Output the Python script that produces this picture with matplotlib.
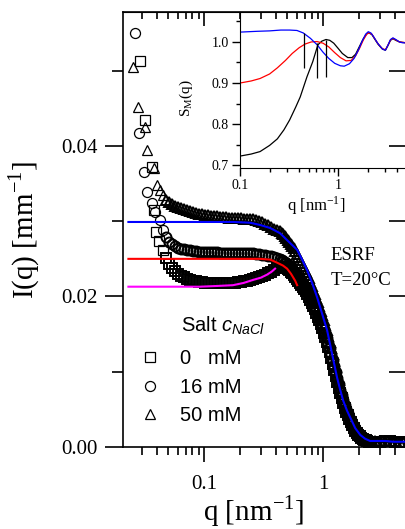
import matplotlib
matplotlib.use("Agg")
import matplotlib.pyplot as plt
from matplotlib.ticker import MultipleLocator, LogLocator, FuncFormatter, NullFormatter, FormatStrFormatter

plt.rcParams['font.family'] = ['Liberation Serif', 'DejaVu Serif']
plt.rcParams['mathtext.fontset'] = 'custom'
plt.rcParams['mathtext.rm'] = 'Liberation Sans'
plt.rcParams['mathtext.it'] = 'Liberation Sans:italic'

# ---- SAXS data, I(q) in mm^-1 ----
# sparse points at the lowest q
q_sq_low = [0.0290, 0.0319, 0.0366, 0.0380, 0.0394, 0.0418, 0.0452]
I_sq_low = [0.0513, 0.0435, 0.0372, 0.0315, 0.0286, 0.0274, 0.0262]
q_ci_low = [0.0263, 0.0285, 0.0313, 0.0331, 0.0366, 0.0387, 0.0427, 0.0452]
I_ci_low = [0.0550, 0.0417, 0.0365, 0.0339, 0.0324, 0.0312, 0.0302, 0.0288]
q_tr_low = [0.0253, 0.0279, 0.0319, 0.0331, 0.0380, 0.0401, 0.0427, 0.0452]
I_tr_low = [0.0505, 0.0452, 0.0425, 0.0395, 0.0371, 0.0348, 0.0342, 0.0335]

# common q grid of the dense part
q_grid = [0.0479, 0.0508, 0.0538, 0.0570, 0.0604, 0.0640, 0.0679, 0.0719, 0.0762, 0.0808,
          0.0856, 0.0907, 0.0961, 0.1019, 0.1080, 0.1144, 0.1213, 0.1285, 0.1362, 0.1443,
          0.1530, 0.1621, 0.1718, 0.1821, 0.1930, 0.2045, 0.2167, 0.2297, 0.2434, 0.2580,
          0.2734, 0.2897, 0.3071, 0.3254, 0.3449, 0.3655, 0.3874, 0.4105, 0.4351, 0.4611,
          0.4886, 0.5178, 0.5488, 0.5816, 0.6164, 0.6532, 0.6923, 0.7337, 0.7775, 0.8240,
          0.8733, 0.9255, 0.9808, 1.039, 1.102, 1.168, 1.237, 1.311, 1.390, 1.473,
          1.561, 1.654, 1.753, 1.858, 1.969, 2.087, 2.211, 2.344, 2.484,
          2.73, 3.01, 3.32, 3.66, 4.03, 4.44, 4.79]

I_sq = [0.0251, 0.0243, 0.0238, 0.0234, 0.0230, 0.0227, 0.0226, 0.0223, 0.0222, 0.0221,
        0.0221, 0.0219, 0.0219, 0.0218, 0.0218, 0.0218, 0.0218, 0.0218, 0.0218, 0.0218,
        0.0218, 0.0218, 0.0218, 0.0218, 0.0219, 0.0219, 0.0221, 0.0221, 0.0222, 0.0223,
        0.0225, 0.0226, 0.0227, 0.0229, 0.0231, 0.0233, 0.0235, 0.0238, 0.0239, 0.0239,
        0.0238, 0.0235, 0.0231, 0.0226, 0.0221, 0.0215, 0.0210, 0.0203, 0.0195, 0.0187,
        0.0178, 0.0169, 0.0158, 0.0146, 0.0133, 0.0118, 0.0102, 0.0086, 0.0072, 0.0058,
        0.0047, 0.0037, 0.0029, 0.0021, 0.0016, 0.0012, 0.0009, 0.0008, 0.0007,
        0.0007, 0.0007, 0.0008, 0.0008, 0.0007, 0.0007, 0.0006]

I_ci = [0.0279, 0.0272, 0.0270, 0.0267, 0.0264, 0.0263, 0.0263, 0.0262, 0.0262, 0.0260,
        0.0260, 0.0259, 0.0259, 0.0259, 0.0259, 0.0259, 0.0259, 0.0259, 0.0258, 0.0258,
        0.0258, 0.0258, 0.0258, 0.0258, 0.0258, 0.0258, 0.0258, 0.0258, 0.0258, 0.0258,
        0.0256, 0.0256, 0.0255, 0.0255, 0.0254, 0.0254, 0.0252, 0.0251, 0.0250, 0.0247,
        0.0245, 0.0241, 0.0237, 0.0231, 0.0226, 0.0221, 0.0215, 0.0209, 0.0201, 0.0193,
        0.0183, 0.0174, 0.0163, 0.0151, 0.0138, 0.0124, 0.0108, 0.0092, 0.0076, 0.0062,
        0.0050, 0.0040, 0.0032, 0.0024, 0.0017, 0.0013, 0.0011, 0.0008, 0.0008,
        0.0007, 0.0008, 0.0008, 0.0008, 0.0007, 0.0007, 0.0006]

I_tr = [0.0328, 0.0326, 0.0323, 0.0320, 0.0319, 0.0318, 0.0316, 0.0315, 0.0314, 0.0312,
        0.0311, 0.0310, 0.0310, 0.0308, 0.0308, 0.0307, 0.0307, 0.0307, 0.0306, 0.0306,
        0.0306, 0.0304, 0.0304, 0.0304, 0.0304, 0.0304, 0.0303, 0.0303, 0.0303, 0.0303,
        0.0302, 0.0300, 0.0299, 0.0296, 0.0295, 0.0292, 0.0290, 0.0288, 0.0287, 0.0283,
        0.0278, 0.0272, 0.0267, 0.0260, 0.0252, 0.0245, 0.0237, 0.0229, 0.0219, 0.0209,
        0.0198, 0.0187, 0.0175, 0.0162, 0.0148, 0.0132, 0.0114, 0.0097, 0.0081, 0.0066,
        0.0054, 0.0044, 0.0035, 0.0027, 0.0020, 0.0016, 0.0012, 0.0009, 0.0008,
        0.0008, 0.0008, 0.0008, 0.0008, 0.0008, 0.0007, 0.0007]

# additional points in the steep decay
q_decay = [0.4479, 0.4747, 0.5031, 0.5332, 0.5651, 0.5989, 0.6347, 0.6727, 0.7129, 0.7555,
           0.8007, 0.8486, 0.8993, 0.9531, 1.0101, 1.0705, 1.1345, 1.2024, 1.2743, 1.3505,
           1.4313, 1.5169, 1.6076, 1.7037, 1.8056, 1.9136, 2.0280, 2.1493, 2.2778, 2.4140]
I_sq_decay = [0.0239, 0.0239, 0.0237, 0.0233, 0.0229, 0.0223, 0.0218, 0.0213, 0.0207, 0.0199,
              0.0191, 0.0183, 0.0173, 0.0163, 0.0152, 0.0140, 0.0126, 0.0110, 0.0094, 0.0079,
              0.0065, 0.0052, 0.0042, 0.0033, 0.0025, 0.0019, 0.0014, 0.0011, 0.0009, 0.0007]
I_ci_decay = [0.0249, 0.0246, 0.0243, 0.0239, 0.0234, 0.0229, 0.0223, 0.0218, 0.0212, 0.0205,
              0.0197, 0.0188, 0.0179, 0.0169, 0.0157, 0.0145, 0.0131, 0.0116, 0.0100, 0.0084,
              0.0069, 0.0056, 0.0045, 0.0036, 0.0028, 0.0021, 0.0015, 0.0012, 0.0009, 0.0008]
I_tr_decay = [0.0285, 0.0280, 0.0275, 0.0270, 0.0264, 0.0256, 0.0249, 0.0241, 0.0233, 0.0224,
              0.0214, 0.0203, 0.0193, 0.0181, 0.0169, 0.0155, 0.0140, 0.0123, 0.0106, 0.0089,
              0.0074, 0.0060, 0.0049, 0.0039, 0.0031, 0.0023, 0.0018, 0.0014, 0.0011, 0.0009]

# model curves
q_fit50 = [0.0232, 0.175, 0.244, 0.296, 0.359, 0.435, 0.528, 0.605, 0.666, 0.734, 0.808,
           0.890, 0.981, 1.08, 1.17, 1.24, 1.31, 1.39, 1.47, 1.59, 1.69, 1.86, 2.05, 2.25,
           2.48, 2.84, 3.32, 3.87, 4.94]
I_fit50 = [0.0299, 0.0299, 0.0298, 0.0295, 0.0291, 0.0284, 0.0271, 0.0262, 0.0249, 0.0235,
           0.0218, 0.0199, 0.0177, 0.0155, 0.0129, 0.0110, 0.0092, 0.0076, 0.0062, 0.0048,
           0.0039, 0.0025, 0.0016, 0.0011, 0.0008, 0.0008, 0.0008, 0.0007, 0.0007]
q_fit16 = [0.0232, 0.296, 0.359, 0.410, 0.461, 0.498, 0.538, 0.582, 0.605]
I_fit16 = [0.0250, 0.0250, 0.0249, 0.0245, 0.0241, 0.0237, 0.0230, 0.0221, 0.0215]
q_fit0 = [0.0232, 0.0925, 0.13, 0.175, 0.215, 0.258, 0.30, 0.338, 0.37, 0.395]
I_fit0 = [0.0213, 0.0213, 0.0214, 0.0215, 0.0218, 0.0222, 0.0225, 0.0229, 0.0233, 0.0237]

# structure factors S_M(q) for the inset
qs_blue = [0.1, 0.15, 0.2, 0.26, 0.32, 0.38, 0.44, 0.52, 0.61, 0.70, 0.80, 0.92, 1.05, 1.15,
           1.30, 1.45, 1.60, 1.75, 1.90, 2.02, 2.15, 2.30, 2.50, 2.70, 2.85, 3.02, 3.20,
           3.40, 3.60, 3.85, 4.2, 4.5, 4.89]
S_blue = [1.024, 1.026, 1.027, 1.029, 1.029, 1.028, 1.022, 1.009, 0.993, 0.975, 0.960,
          0.948, 0.942, 0.941, 0.947, 0.960, 0.980, 1.002, 1.019, 1.025, 1.022, 1.012,
          0.998, 0.988, 0.982, 0.980, 0.992, 1.006, 1.010, 1.006, 1.000, 0.998, 0.998]
qs_red = [0.1, 0.13, 0.16, 0.2, 0.24, 0.29, 0.34, 0.40, 0.46, 0.53, 0.61, 0.70, 0.80,
          0.92, 1.05, 1.2, 1.35, 1.50, 1.65, 1.80, 1.95, 2.05, 2.2, 2.35, 2.55, 2.8,
          3.02, 3.2, 3.4, 3.6, 3.85, 4.2, 4.89]
S_red = [0.900, 0.905, 0.911, 0.922, 0.937, 0.955, 0.972, 0.986, 0.995, 1.000, 1.001,
         0.997, 0.988, 0.974, 0.962, 0.954, 0.955, 0.966, 0.985, 1.005, 1.019, 1.022,
         1.019, 1.008, 0.995, 0.984, 0.981, 0.992, 1.005, 1.009, 1.005, 1.000, 0.998]
qs_black = [0.1, 0.13, 0.16, 0.2, 0.24, 0.28, 0.32, 0.37, 0.41, 0.48, 0.55, 0.62, 0.68,
            0.75, 0.82, 0.9, 1.0, 1.1, 1.25, 1.38, 1.5, 1.65, 1.8, 1.95, 2.05, 2.2, 2.35,
            2.55, 2.8, 3.02, 3.2, 3.4, 3.6, 3.85, 4.2, 4.89]
S_black = [0.722, 0.727, 0.733, 0.748, 0.764, 0.786, 0.810, 0.842, 0.866, 0.915, 0.952,
           0.993, 1.002, 1.006, 1.004, 0.997, 0.984, 0.972, 0.962, 0.962, 0.970, 0.990,
           1.008, 1.020, 1.022, 1.018, 1.007, 0.994, 0.983, 0.980, 0.991, 1.004, 1.008,
           1.004, 1.000, 0.998]
# peak positions marked in the inset
q_peak = [0.45, 0.61, 0.75]
S_peak_lo = [0.937, 0.912, 0.915]
S_peak_hi = [1.022, 0.998, 1.005]

fig = plt.figure(figsize=(4.05, 5.29), dpi=100)
W, H = 405.0, 529.0
ax = fig.add_axes([123 / W, (H - 447) / H, 283 / W, 435 / H])

# sparse low-q points with thin edges, dense part with heavier edges
thin = dict(ls='none', mfc='none', mec='black', mew=0.9)
heavy = dict(ls='none', mfc='none', mec='black', mew=1.4)
h_sq, = ax.plot(q_sq_low, I_sq_low, marker='s', ms=6.5, **thin)
h_ci, = ax.plot(q_ci_low, I_ci_low, marker='o', ms=7.2, **thin)
h_tr, = ax.plot(q_tr_low, I_tr_low, marker='^', ms=7.5, **thin)
ax.plot(q_grid + q_decay, I_sq + I_sq_decay, marker='s', ms=6.5, **heavy)
ax.plot(q_grid + q_decay, I_ci + I_ci_decay, marker='o', ms=7.2, **heavy)
ax.plot(q_grid + q_decay, I_tr + I_tr_decay, marker='^', ms=7.5, **heavy)

ax.plot(q_fit0, I_fit0, color='#ff00ff', lw=1.5, zorder=5)
ax.plot(q_fit16, I_fit16, color='#ff0000', lw=1.5, zorder=5)
ax.plot(q_fit50, I_fit50, color='#0000ff', lw=1.5, zorder=5)

ax.set_xscale('log')
ax.set_xlim(0.0209, 4.96)
ax.set_ylim(0, 0.0578)
ax.xaxis.set_major_locator(LogLocator(base=10))
ax.xaxis.set_minor_locator(LogLocator(base=10, subs=range(2, 10)))
ax.xaxis.set_major_formatter(FuncFormatter(lambda v, p: f'{v:g}'))
ax.xaxis.set_minor_formatter(NullFormatter())
ax.yaxis.set_major_locator(MultipleLocator(0.02))
ax.yaxis.set_minor_locator(MultipleLocator(0.01))
ax.yaxis.set_major_formatter(FormatStrFormatter('%.2f'))
ax.tick_params(which='both', direction='out', labelsize=15, width=1.2)
ax.tick_params(axis='y', which='major', length=13, pad=5)
ax.tick_params(axis='y', which='minor', length=8)
ax.tick_params(axis='x', which='major', length=11, pad=9)
ax.tick_params(axis='x', which='minor', length=6)
for s in ax.spines.values():
    s.set_linewidth(1.2)

# inward ticks on the opposite sides
top = ax.secondary_xaxis('top')
top.xaxis.set_major_locator(LogLocator(base=10))
top.xaxis.set_minor_locator(LogLocator(base=10, subs=range(2, 10)))
top.xaxis.set_major_formatter(NullFormatter())
top.xaxis.set_minor_formatter(NullFormatter())
top.tick_params(which='both', direction='in', width=1.2)
top.tick_params(which='major', length=10)
top.tick_params(which='minor', length=5)
right = ax.secondary_yaxis('right')
right.yaxis.set_major_locator(MultipleLocator(0.01))
right.yaxis.set_major_formatter(NullFormatter())
right.tick_params(direction='in', length=12, width=1.2)

ax.set_xlabel('q [nm$^{\\mathregular{-1}}$]', fontsize=21)
ax.xaxis.set_label_coords(0.46, -0.105)
ax.set_ylabel('I(q) [mm$^{\\mathregular{-1}}$]', fontsize=21)
ax.yaxis.set_label_coords(-0.285, 0.5)

ax.text(0.733, 0.441, 'ESRF', fontsize=13.5, va='center', transform=ax.transAxes)
ax.text(0.733, 0.382, 'T=20°C', fontsize=13.5, va='center', transform=ax.transAxes)

sans = {'family': 'Liberation Sans', 'size': 14.5}
ax.text(0.205, 0.278, 'Salt $c_{NaCl}$', fontdict=sans, va='center', transform=ax.transAxes)
ax.legend([h_sq, h_ci, h_tr], ['0   mM', '16 mM', '50 mM'], loc='upper left',
          bbox_to_anchor=(0.06, 0.2245), frameon=False, prop=sans, handlelength=1.0,
          handletextpad=1.0, labelspacing=0.47, borderpad=0, borderaxespad=0)

# inset: structure factor
ins = fig.add_axes([240 / W, (H - 168) / H, 166 / W, 156 / H])
ins.patch.set_alpha(0)
ins.plot(qs_black, S_black, color='black', lw=0.9)
ins.plot(qs_red, S_red, color='#ff0000', lw=0.9)
ins.plot(qs_blue, S_blue, color='#0000ff', lw=0.9)
ins.vlines(q_peak, S_peak_lo, S_peak_hi, color='black', lw=0.9)
ins.set_xscale('log')
ins.set_xlim(0.1, 4.89)
ins.set_ylim(0.693, 1.073)
ins.xaxis.set_major_locator(LogLocator(base=10))
ins.xaxis.set_minor_locator(LogLocator(base=10, subs=range(2, 10)))
ins.xaxis.set_major_formatter(FuncFormatter(lambda v, p: f'{v:g}'))
ins.xaxis.set_minor_formatter(NullFormatter())
ins.yaxis.set_major_locator(MultipleLocator(0.1))
ins.yaxis.set_minor_locator(MultipleLocator(0.05))
ins.yaxis.set_major_formatter(FormatStrFormatter('%.1f'))
ins.tick_params(which='both', direction='out', labelsize=10, width=1.0, pad=2)
ins.tick_params(which='major', length=6)
ins.tick_params(which='minor', length=3)
ins.spines['top'].set_visible(False)
ins.spines['right'].set_visible(False)
ins.set_xlabel('q [nm$^{\\mathregular{-1}}$]', fontsize=12)
ins.xaxis.set_label_coords(0.46, -0.17)
ins.set_ylabel('S$_{\\mathregular{M}}$(q)', fontsize=11)
ins.yaxis.set_label_coords(-0.27, 0.45)

fig.savefig('out.png', dpi=100)
